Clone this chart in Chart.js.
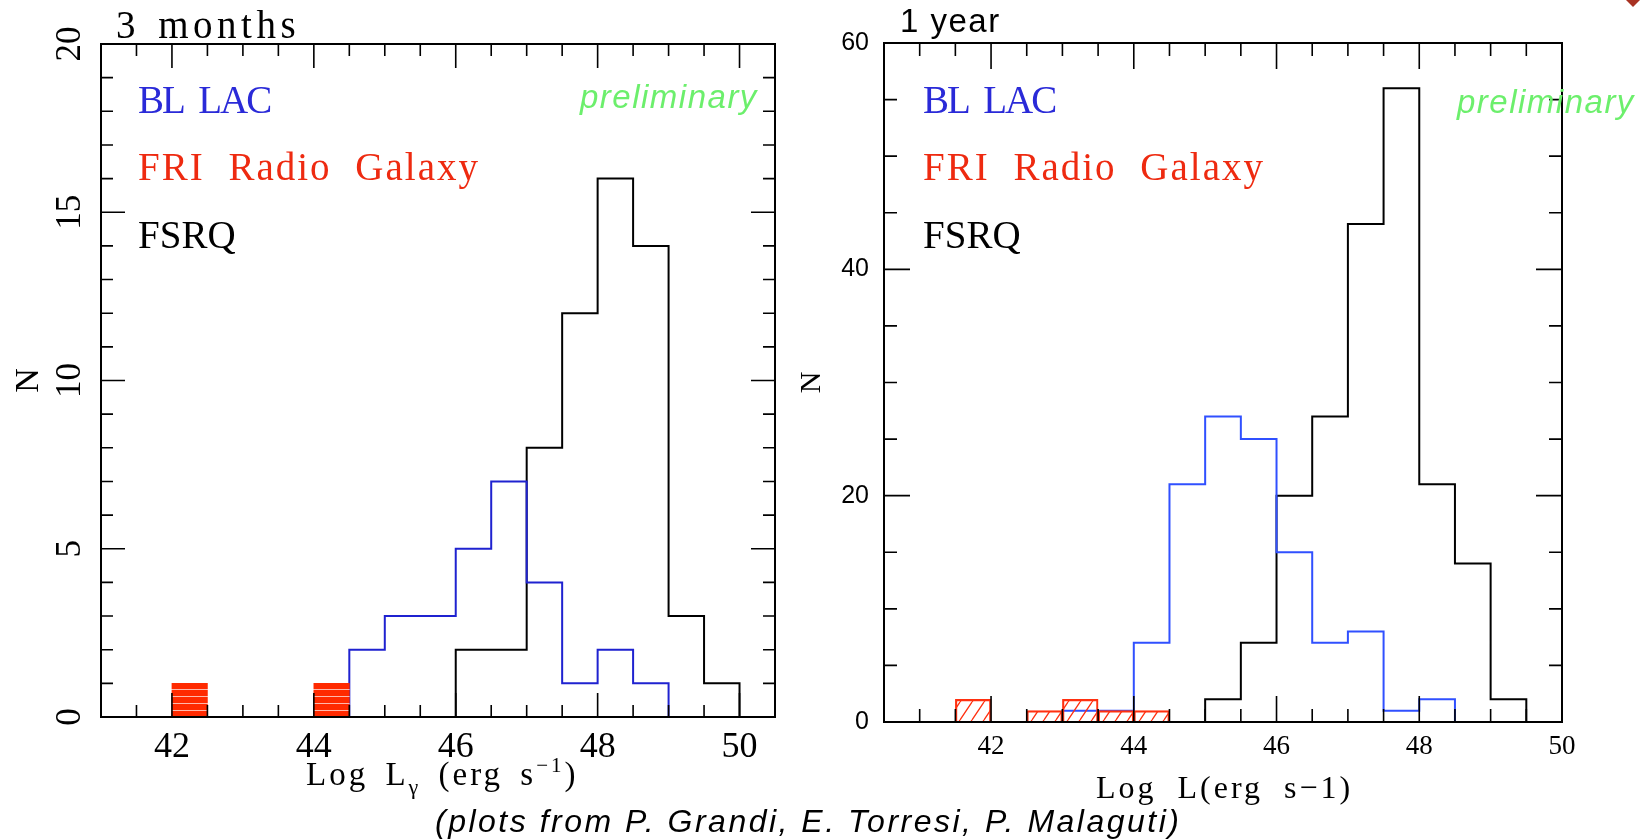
<!DOCTYPE html>
<html>
<head>
<meta charset="utf-8">
<script src="https://cdn.jsdelivr.net/npm/chart.js@4.4.1/dist/chart.umd.min.js"></script>
<style>
    body { margin: 0; background: #fff; width: 1648px; height: 839px; overflow: hidden; position: relative; }
    canvas { position: absolute; top: 0; }
    .t { position: absolute; line-height: 1; white-space: nowrap; margin: 0; }
    .serif { font-family: 'Liberation Serif', serif; }
    .sans { font-family: 'Liberation Sans', sans-serif; }
    .lab { font-size: 39px; }
    .prelim { font-size: 33px; font-style: italic; color: #6cef6c; letter-spacing: 1.5px; }
    .blue { color: #2a2ad8; }
    .red { color: #ee2a10; }
</style>
</head>
<body>
<canvas id="chart3m" width="800" height="839" style="left:0"></canvas>
<canvas id="chart1y" width="868" height="839" style="left:780px"></canvas>

<div class="t serif" style="left:116px; top:5px; font-size:39px; letter-spacing:4.5px; word-spacing:4px">3 months</div>
<div class="t sans" style="left:900px; top:4px; font-size:33px; letter-spacing:1.5px">1 year</div>

<!-- labels, left plot -->
<div class="t serif lab blue" style="left:138px; top:80px; letter-spacing:-2px; word-spacing:8px">BL LAC</div>
<div class="t serif lab red" style="left:138px; top:147px; letter-spacing:2px; word-spacing:12px">FRI Radio Galaxy</div>
<div class="t serif lab" style="left:138px; top:215px">FSRQ</div>
<div class="t sans prelim" style="left:580px; top:80px">preliminary</div>

<!-- labels, right plot -->
<div class="t serif lab blue" style="left:923px; top:80px; letter-spacing:-2px; word-spacing:8px">BL LAC</div>
<div class="t serif lab red" style="left:923px; top:147px; letter-spacing:2px; word-spacing:12px">FRI Radio Galaxy</div>
<div class="t serif lab" style="left:923px; top:215px">FSRQ</div>
<div class="t sans prelim" style="left:1457px; top:85px">preliminary</div>

<!-- axis titles -->
<div class="t serif" style="left:306px; top:758px; font-size:33px; letter-spacing:3px; word-spacing:6px">Log L<span style="position:relative; top:9px; font-size:22px">γ</span> (erg s<span style="position:relative; top:-13px; font-size:21px">−1</span>)</div>
<div class="t serif" style="left:1096px; top:771px; font-size:32px; letter-spacing:3px; word-spacing:10px">Log L(erg s−1)</div>

<div class="t sans" style="left:435px; top:805px; font-size:32px; font-style:italic; letter-spacing:2.5px">(plots from P. Grandi, E. Torresi, P. Malaguti)</div>

<div style="position:absolute; left:1626px; top:0; width:0; height:0; border-left:7px solid transparent; border-right:7px solid transparent; border-top:7px solid #a83222"></div>

<script>
// 3 months: bin edges and counts per bin
const edges3m = [41, 41.5, 42, 42.5, 43, 43.5, 44, 44.5, 45, 45.5, 46, 46.5, 47, 47.5, 48, 48.5, 49, 49.5, 50];
const fsrq3m = [0, 0, 0, 0, 0, 0, 0, 0, 0, 0, 2, 2, 8, 12, 16, 14, 3, 1];
const bllac3m = [0, 0, 0, 0, 0, 0, 0, 2, 3, 3, 5, 7, 4, 1, 2, 1, 0, 0];
const fri3m = [0, 0, 1, 0, 0, 0, 1, 0, 0, 0, 0, 0, 0, 0, 0, 0, 0, 0];
const xLabels3m = [42, 44, 46, 48, 50];
const yLabels3m = [0, 5, 10, 15, 20];

// 1 year
const edges1y = [40.5, 41, 41.5, 42, 42.5, 43, 43.5, 44, 44.5, 45, 45.5, 46, 46.5, 47, 47.5, 48, 48.5, 49, 49.5, 50];
const fsrq1y = [0, 0, 0, 0, 0, 0, 0, 0, 0, 2, 7, 20, 27, 44, 56, 21, 14, 2, 0];
const bllac1y = [0, 0, 0, 0, 0, 1, 1, 7, 21, 27, 25, 15, 7, 8, 1, 2, 0, 0, 0];
const fri1y = [0, 0, 2, 0, 1, 2, 1, 1, 0, 0, 0, 0, 0, 0, 0, 0, 0, 0, 0];
const xLabels1y = [42, 44, 46, 48, 50];
const yLabels1y = [0, 20, 40, 60];

// outline of a histogram as step points (value held until next edge)
function stepPoints(edges, counts) {
    const first = counts.findIndex(c => c > 0);
    let last = counts.length - 1;
    while (last > 0 && counts[last] === 0) last--;
    const pts = [{x: edges[first], y: 0}];
    for (let i = first; i <= last; i++) {
        pts.push({x: edges[i], y: counts[i]});
    }
    pts.push({x: edges[last + 1], y: 0});
    return pts;
}

function barPoints(edges, counts) {
    return counts.map((c, i) => ({x: (edges[i] + edges[i + 1]) / 2, y: c}));
}

function stripePattern() {
    const c = document.createElement('canvas');
    c.width = 4; c.height = 7;
    const g = c.getContext('2d');
    g.fillStyle = '#ff2a00';
    g.fillRect(0, 0, 4, 7);
    g.fillStyle = 'rgba(255, 200, 190, 0.9)';
    g.fillRect(0, 3, 4, 1);
    return g.createPattern(c, 'repeat');
}

function hatchPattern() {
    const c = document.createElement('canvas');
    const w = 12, h = 18;
    c.width = w; c.height = h;
    const g = c.getContext('2d');
    g.strokeStyle = '#ff3010';
    g.lineWidth = 1.3;
    g.beginPath();
    g.moveTo(-w, h); g.lineTo(0, 0);
    g.moveTo(0, h); g.lineTo(w, 0);
    g.moveTo(w, h); g.lineTo(2 * w, 0);
    g.stroke();
    return g.createPattern(c, 'repeat');
}

// frame box and inward tick marks on all four sides
const frameTicks = {
    id: 'frameTicks',
    afterDatasetsDraw(chart, args, opts) {
        const {ctx, chartArea: a, scales: {x, y}} = chart;
        const isMajor = (v, m) => Math.abs(v / m - Math.round(v / m)) < 1e-6;
        ctx.save();
        ctx.strokeStyle = '#000';
        ctx.lineWidth = 1.6;
        ctx.beginPath();
        let n = Math.round((x.max - x.min) / opts.xStep);
        for (let i = 1; i < n; i++) {
            const v = x.min + i * opts.xStep;
            const px = x.getPixelForValue(v);
            const len = isMajor(v, opts.xMajor) ? opts.major : opts.minor;
            ctx.moveTo(px, a.bottom); ctx.lineTo(px, a.bottom - len);
            ctx.moveTo(px, a.top); ctx.lineTo(px, a.top + len);
        }
        n = Math.round((y.max - y.min) / opts.yStep);
        for (let i = 1; i < n; i++) {
            const v = y.min + i * opts.yStep;
            const py = y.getPixelForValue(v);
            const len = isMajor(v, opts.yMajor) ? opts.major : opts.minor;
            ctx.moveTo(a.left, py); ctx.lineTo(a.left + len, py);
            ctx.moveTo(a.right, py); ctx.lineTo(a.right - len, py);
        }
        ctx.stroke();
        ctx.lineWidth = 2;
        ctx.strokeRect(a.left, a.top, a.right - a.left, a.bottom - a.top);
        ctx.restore();
    }
};

const serif = "'Liberation Serif', serif";

// 3 months
new Chart(document.getElementById('chart3m'), {
    type: 'line',
    data: {
        datasets: [{
            type: 'bar',
            label: 'FRI Radio Galaxy',
            data: barPoints(edges3m, fri3m),
            backgroundColor: stripePattern(),
            borderWidth: 0,
            barPercentage: 1,
            categoryPercentage: 1,
            order: 0
        }, {
            label: 'BL LAC',
            data: stepPoints(edges3m, bllac3m),
            borderColor: '#1f22d0',
            borderWidth: 2,
            stepped: true,
            pointRadius: 0,
            fill: false,
            order: 1
        }, {
            label: 'FSRQ',
            data: stepPoints(edges3m, fsrq3m),
            borderColor: '#000',
            borderWidth: 2,
            stepped: true,
            pointRadius: 0,
            fill: false,
            order: 2
        }]
    },
    plugins: [frameTicks],
    options: {
        responsive: false,
        animation: false,
        layout: {
            padding: {top: 44, right: 25, left: 0, bottom: 0}
        },
        plugins: {
            legend: {display: false},
            tooltip: {enabled: false},
            frameTicks: {xStep: 0.5, xMajor: 2, yStep: 1, yMajor: 5, major: 24, minor: 12}
        },
        scales: {
            x: {
                type: 'linear',
                min: 41,
                max: 50.5,
                offset: false,
                grid: {display: false, drawTicks: false},
                border: {display: false},
                afterBuildTicks: s => { s.ticks = xLabels3m.map(v => ({value: v})); },
                afterFit: s => { s.height = 122; },
                ticks: {
                    color: '#000',
                    font: {family: serif, size: 36},
                    padding: 9,
                    maxRotation: 0,
                    autoSkip: false
                }
            },
            y: {
                min: 0,
                max: 20,
                grid: {display: false, drawTicks: false},
                border: {display: false},
                afterBuildTicks: s => { s.ticks = yLabels3m.map(v => ({value: v})); },
                afterFit: s => { s.width = 101; },
                ticks: {
                    color: '#000',
                    font: {family: serif, size: 35},
                    minRotation: 90,
                    maxRotation: 90,
                    crossAlign: 'center',
                    padding: 13,
                    autoSkip: false
                },
                title: {
                    display: true,
                    text: 'N',
                    color: '#000',
                    font: {family: serif, size: 34},
                    padding: {top: 9, bottom: 0}
                }
            }
        }
    }
});

// 1 year
new Chart(document.getElementById('chart1y'), {
    type: 'line',
    data: {
        datasets: [{
            type: 'bar',
            label: 'FRI Radio Galaxy',
            data: barPoints(edges1y, fri1y),
            backgroundColor: hatchPattern(),
            borderColor: '#ff3010',
            borderWidth: 1.5,
            barPercentage: 1,
            categoryPercentage: 1,
            order: 0
        }, {
            label: 'BL LAC',
            data: stepPoints(edges1y, bllac1y),
            borderColor: '#3050ff',
            borderWidth: 2,
            stepped: true,
            pointRadius: 0,
            fill: false,
            order: 1
        }, {
            label: 'FSRQ',
            data: stepPoints(edges1y, fsrq1y),
            borderColor: '#000',
            borderWidth: 2,
            stepped: true,
            pointRadius: 0,
            fill: false,
            order: 2
        }]
    },
    plugins: [frameTicks],
    options: {
        responsive: false,
        animation: false,
        layout: {
            padding: {top: 43, right: 86, left: 0, bottom: 0}
        },
        plugins: {
            legend: {display: false},
            tooltip: {enabled: false},
            frameTicks: {xStep: 0.5, xMajor: 2, yStep: 5, yMajor: 20, major: 26, minor: 13}
        },
        scales: {
            x: {
                type: 'linear',
                min: 40.5,
                max: 50,
                offset: false,
                grid: {display: false, drawTicks: false},
                border: {display: false},
                afterBuildTicks: s => { s.ticks = xLabels1y.map(v => ({value: v})); },
                afterFit: s => { s.height = 117; },
                ticks: {
                    color: '#000',
                    font: {family: serif, size: 27},
                    padding: 9,
                    maxRotation: 0,
                    autoSkip: false
                }
            },
            y: {
                min: 0,
                max: 60,
                grid: {display: false, drawTicks: false},
                border: {display: false},
                afterBuildTicks: s => { s.ticks = yLabels1y.map(v => ({value: v})); },
                afterFit: s => { s.width = 104; },
                ticks: {
                    color: '#000',
                    font: {family: "'Liberation Sans', sans-serif", size: 25},
                    padding: 15,
                    autoSkip: false
                },
                title: {
                    display: true,
                    text: 'N',
                    color: '#000',
                    font: {family: serif, size: 30},
                    padding: {top: 14, bottom: 0}
                }
            }
        }
    }
});
</script>
</body>
</html>
